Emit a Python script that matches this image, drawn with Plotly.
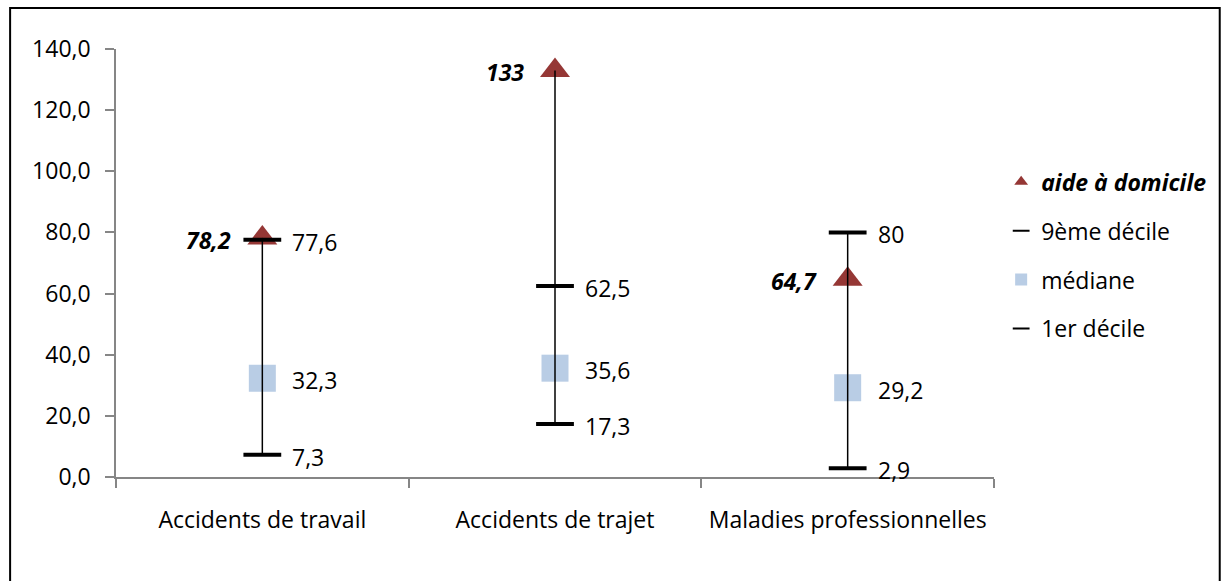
import plotly.graph_objects as go

# Catégories et valeurs
categories = ["Accidents de travail", "Accidents de trajet", "Maladies professionnelles"]
aide_domicile = [78.2, 133, 64.7]
decile_9 = [77.6, 62.5, 80]
mediane = [32.3, 35.6, 29.2]
decile_1 = [7.3, 17.3, 2.9]
y_ticks = [0, 20, 40, 60, 80, 100, 120, 140]

FONT = "Open Sans"
TXT = 23
RED = "#953735"
BLUE = "#B9CDE5"
AXIS = "#868686"


def fmt(v):
    return f"{v:g}".replace(".", ",")


fig = go.Figure()

fig.add_trace(go.Scatter(
    x=categories, y=aide_domicile, mode="markers",
    name="<b><i>aide à domicile</i></b>", legendgroup="a",
    marker=dict(symbol="triangle-up", size=26, color=RED),
    cliponaxis=False,
))
fig.add_trace(go.Scatter(
    x=categories, y=decile_9, mode="markers", name="9ème décile", legendgroup="b",
    marker=dict(symbol="line-ew", size=27, line=dict(width=4, color="black")),
    cliponaxis=False,
))
fig.add_trace(go.Scatter(
    x=categories, y=mediane, mode="markers", name="médiane", legendgroup="c",
    marker=dict(symbol="square", size=27, color=BLUE),
    cliponaxis=False,
))
fig.add_trace(go.Scatter(
    x=categories, y=decile_1, mode="markers", name="1er décile", legendgroup="d",
    marker=dict(symbol="line-ew", size=27, line=dict(width=4, color="black")),
    cliponaxis=False,
))

# Lignes haut-bas reliant les extrêmes de chaque catégorie
hx, hy = [], []
for i, c in enumerate(categories):
    vals = [aide_domicile[i], decile_9[i], mediane[i], decile_1[i]]
    hx += [c, c, None]
    hy += [min(vals), max(vals), None]
fig.add_trace(go.Scatter(
    x=hx, y=hy, mode="lines", line=dict(color="black", width=1.5),
    showlegend=False, hoverinfo="skip", cliponaxis=False,
))

# Étiquettes de données
annotations = []
for i, c in enumerate(categories):
    annotations.append(dict(
        x=c, y=aide_domicile[i], text=f"<b><i>{fmt(aide_domicile[i])}</i></b>",
        xanchor="right", yanchor="middle", xshift=-29, yshift=-2, showarrow=False,
        font=dict(family=FONT, size=TXT, color="black"),
    ))
    for series in (decile_9, mediane, decile_1):
        annotations.append(dict(
            x=c, y=series[i], text=fmt(series[i]),
            xanchor="left", yanchor="middle", xshift=28, yshift=-2, showarrow=False,
            font=dict(family=FONT, size=TXT, color="black"),
        ))

fig.update_layout(
    width=1223, height=581,
    margin=dict(l=116, r=228, t=49, b=104),
    paper_bgcolor="white", plot_bgcolor="white",
    separators=", ",
    font=dict(family=FONT, size=TXT, color="black"),
    showlegend=True,
    legend=dict(
        x=1.007, xanchor="left", y=0.74, yanchor="top",
        font=dict(family=FONT, size=TXT, color="black"),
        traceorder="grouped", tracegroupgap=16,
        itemsizing="constant", bgcolor="rgba(0,0,0,0)",
    ),
    xaxis=dict(
        range=[-0.5, 2.5], showgrid=False, showline=True, linecolor=AXIS, linewidth=1.5,
        ticks="outside", ticklen=9, tickcolor=AXIS, tickwidth=1.5, tickson="boundaries",
        ticklabelstandoff=22, zeroline=False,
        tickfont=dict(family=FONT, size=TXT, color="black"),
    ),
    yaxis=dict(
        range=[0, 140], tickvals=y_ticks, tickformat=".1f", showgrid=False,
        showline=True, linecolor=AXIS, linewidth=1.5, ticks="outside", ticklen=9,
        tickcolor=AXIS, tickwidth=1.5, ticklabelstandoff=10, zeroline=False,
        tickfont=dict(family=FONT, size=TXT, color="black"),
    ),
    annotations=annotations,
    shapes=[dict(
        type="rect", xref="paper", yref="paper",
        x0=-0.1206, x1=1.2571, y0=-0.3, y1=1.0958,
        line=dict(color="black", width=2), fillcolor="rgba(0,0,0,0)", layer="below",
    )],
)

fig.write_html("out.html")
